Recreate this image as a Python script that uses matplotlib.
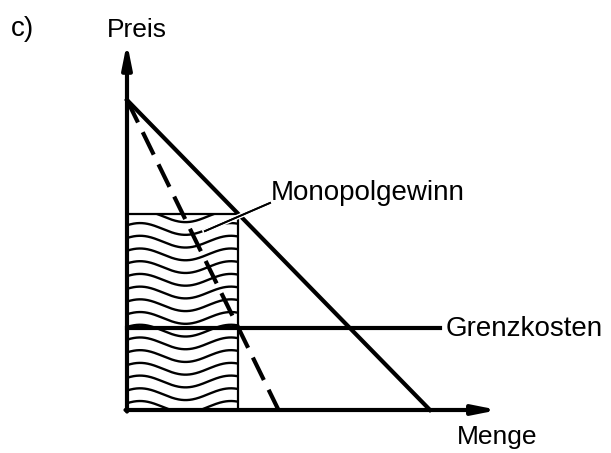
import numpy as np
import matplotlib.pyplot as plt
import matplotlib.patheffects as pe
from matplotlib.patches import Rectangle

plt.rcParams["font.family"] = ["Liberation Sans", "DejaVu Sans"]

# Modell: lineare Nachfrage, Grenzerlös, konstante Grenzkosten
p_max = 10.0          # Prohibitivpreis
q_nachfrage = 10.0    # Sättigungsmenge der Nachfrage
q_grenzerloes = 5.0   # Nullstelle des Grenzerlöses
grenzkosten = 2.65
q_mc_ende = 10.33

nachfrage_q = [0.0, q_nachfrage]
nachfrage_p = [p_max, 0.0]
grenzerloes_q = [0.0, q_grenzerloes]
grenzerloes_p = [p_max, 0.0]

# Cournot-Punkt: Grenzerlös = Grenzkosten
q_monopol = q_grenzerloes * (p_max - grenzkosten) / p_max
p_monopol = p_max * (1 - q_monopol / q_nachfrage)

fig = plt.figure(figsize=(6.11, 4.53), dpi=100)
ax = fig.add_axes([0, 0, 1, 1])
ax.set_xlim(-127 / 30.3, (611 - 127) / 30.3)
ax.set_ylim(-(453 - 410) / 31, 410 / 31)
ax.axis("off")

# Achsen mit Pfeilen
pfeil = dict(arrowstyle="-|>,head_length=1.4,head_width=0.28", color="black",
             lw=3, shrinkA=0, shrinkB=0)
ax.annotate("", xy=(0, 11.85), xytext=(0, -0.05), arrowprops=pfeil)
ax.annotate("", xy=(12.25, 0), xytext=(-0.05, 0), arrowprops=pfeil)

# Schraffur (Wellenlinien) im Gewinnrechteck
rechteck = Rectangle((0, 0), q_monopol, p_monopol, fill=False,
                     edgecolor="black", lw=1.6, zorder=3)
ax.add_patch(rechteck)
wx = np.linspace(0, q_monopol, 200)
for basis in np.arange(0.1, p_monopol + 0.4, 0.41):
    wy = basis + 0.19 * np.cos(2 * np.pi * (wx - 0.43) / 3.0)
    linie, = ax.plot(wx, wy, color="black", lw=1.7, zorder=2)
    linie.set_clip_path(rechteck)

# Nachfrage, Grenzerlös, Grenzkosten
ax.plot(nachfrage_q, nachfrage_p, color="black", lw=3, zorder=4)
ax.plot(grenzerloes_q, grenzerloes_p, color="black", lw=3,
        dashes=(6, 2.6), zorder=4)
ax.plot([0, q_mc_ende], [grenzkosten, grenzkosten], color="black", lw=3, zorder=4)

# Beschriftung Monopolgewinn mit Hinweislinie
ax.plot([2.57, 4.72], [5.77, 6.68], color="black", lw=1.3, zorder=5,
        path_effects=[pe.withStroke(linewidth=3.5, foreground="white"), pe.Normal()])

schrift = 20
ax.text(4.75, 7.0, "Monopolgewinn", fontsize=schrift, ha="left", va="center")
ax.text(q_mc_ende + 0.2, grenzkosten - 0.05, "Grenzkosten", fontsize=schrift,
        ha="left", va="center")
ax.text(0.33, 12.26, "Preis", fontsize=19, ha="center", va="center")
ax.text(12.2, -0.87, "Menge", fontsize=19, ha="center", va="center")
ax.text(-3.45, 12.3, "c)", fontsize=schrift, ha="center", va="center")

fig.savefig("out.png", dpi=100)
